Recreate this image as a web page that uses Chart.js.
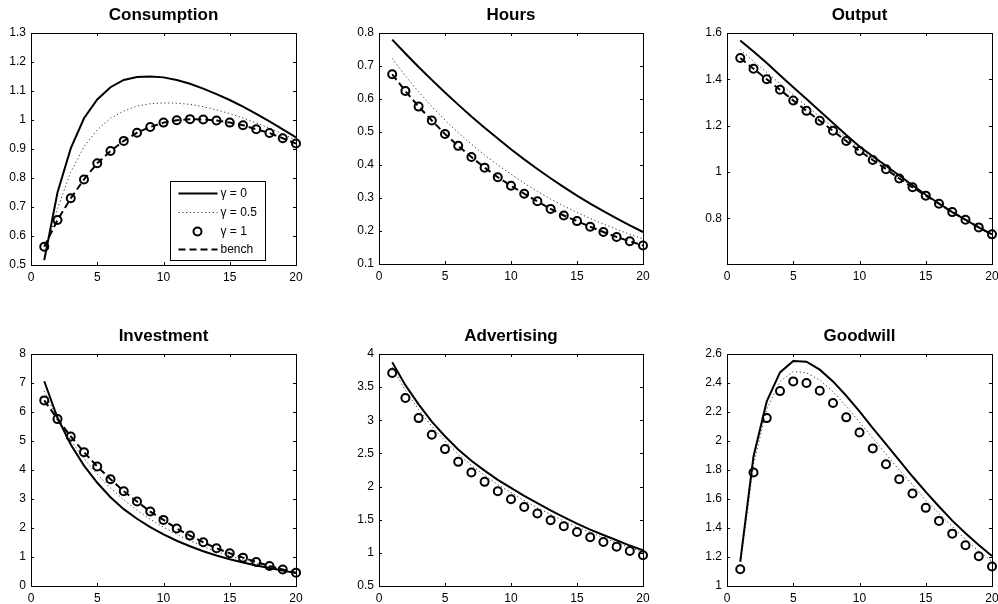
<!DOCTYPE html>
<html>
<head>
<meta charset="utf-8">
<script src="https://cdn.jsdelivr.net/npm/chart.js@4.4.1/dist/chart.umd.min.js"></script>
<style>
html, body { margin: 0; padding: 0; background: #fff; }
body { position: relative; width: 998px; height: 604px; overflow: hidden; }
canvas { position: absolute; }
</style>
</head>
<body>
<script>
// horizon (periods) and x ticks
const periods = [1, 2, 3, 4, 5, 6, 7, 8, 9, 10, 11, 12, 13, 14, 15, 16, 17, 18, 19, 20];
const xTicks = [0, 5, 10, 15, 20];

// Consumption
const consumptionG0 = [0.517, 0.75, 0.902, 1.006, 1.071, 1.113, 1.138, 1.148, 1.150, 1.147, 1.138, 1.125, 1.108, 1.089, 1.069, 1.046, 1.021, 0.995, 0.968, 0.940];
const consumptionG05 = [0.53, 0.695, 0.82, 0.908, 0.966, 1.006, 1.031, 1.048, 1.056, 1.059, 1.058, 1.054, 1.046, 1.035, 1.022, 1.007, 0.990, 0.972, 0.952, 0.930];
const consumptionG1 = [0.563, 0.655, 0.730, 0.795, 0.851, 0.893, 0.928, 0.956, 0.976, 0.991, 0.999, 1.003, 1.002, 0.998, 0.991, 0.982, 0.968, 0.955, 0.937, 0.919];
const consumptionBench = [0.563, 0.655, 0.730, 0.795, 0.851, 0.893, 0.928, 0.956, 0.976, 0.991, 0.999, 1.003, 1.002, 0.998, 0.991, 0.982, 0.968, 0.955, 0.937, 0.919];
const consumptionTicks = [0.5, 0.6, 0.7, 0.8, 0.9, 1, 1.1, 1.2, 1.3];

// Hours
const hoursG0 = [0.780, 0.738, 0.697, 0.658, 0.620, 0.583, 0.547, 0.513, 0.480, 0.448, 0.417, 0.388, 0.360, 0.333, 0.307, 0.283, 0.260, 0.238, 0.217, 0.197];
const hoursG05 = [0.723, 0.670, 0.622, 0.577, 0.536, 0.498, 0.463, 0.430, 0.400, 0.372, 0.345, 0.320, 0.297, 0.276, 0.256, 0.238, 0.221, 0.205, 0.190, 0.176];
const hoursG1 = [0.675, 0.624, 0.577, 0.535, 0.494, 0.458, 0.424, 0.392, 0.363, 0.337, 0.313, 0.290, 0.267, 0.247, 0.230, 0.213, 0.197, 0.182, 0.169, 0.156];
const hoursBench = [0.675, 0.624, 0.577, 0.535, 0.494, 0.458, 0.424, 0.392, 0.363, 0.337, 0.313, 0.290, 0.267, 0.247, 0.230, 0.213, 0.197, 0.182, 0.169, 0.156];
const hoursTicks = [0.1, 0.2, 0.3, 0.4, 0.5, 0.6, 0.7, 0.8];

// Output
const outputG0 = [1.568, 1.520, 1.470, 1.418, 1.366, 1.315, 1.263, 1.212, 1.160, 1.110, 1.068, 1.027, 0.985, 0.943, 0.902, 0.864, 0.827, 0.794, 0.761, 0.731];
const outputG05 = [1.528, 1.478, 1.430, 1.381, 1.333, 1.285, 1.239, 1.193, 1.147, 1.102, 1.060, 1.018, 0.976, 0.937, 0.900, 0.864, 0.828, 0.794, 0.761, 0.731];
const outputG1 = [1.492, 1.446, 1.400, 1.355, 1.309, 1.264, 1.221, 1.178, 1.134, 1.091, 1.052, 1.012, 0.972, 0.934, 0.898, 0.863, 0.827, 0.794, 0.761, 0.731];
const outputBench = [1.492, 1.446, 1.400, 1.355, 1.309, 1.264, 1.221, 1.178, 1.134, 1.091, 1.052, 1.012, 0.972, 0.934, 0.898, 0.863, 0.827, 0.794, 0.761, 0.731];
const outputTicks = [0.8, 1, 1.2, 1.4, 1.6];

// Investment
const investmentG0 = [7.06, 5.80, 4.88, 4.15, 3.56, 3.06, 2.65, 2.32, 2.03, 1.78, 1.56, 1.37, 1.20, 1.05, 0.92, 0.81, 0.71, 0.62, 0.53, 0.45];
const investmentG05 = [6.72, 5.78, 5.02, 4.39, 3.85, 3.38, 2.97, 2.61, 2.30, 2.03, 1.78, 1.56, 1.36, 1.19, 1.04, 0.90, 0.78, 0.66, 0.56, 0.46];
const investmentG1 = [6.40, 5.755, 5.157, 4.616, 4.121, 3.683, 3.269, 2.912, 2.567, 2.279, 1.980, 1.738, 1.508, 1.301, 1.128, 0.978, 0.830, 0.690, 0.570, 0.460];
const investmentBench = [6.40, 5.755, 5.157, 4.616, 4.121, 3.683, 3.269, 2.912, 2.567, 2.279, 1.980, 1.738, 1.508, 1.301, 1.128, 0.978, 0.830, 0.690, 0.570, 0.460];
const investmentTicks = [0, 1, 2, 3, 4, 5, 6, 7, 8];

// Advertising (no benchmark)
const advertisingG0 = [3.874, 3.53, 3.24, 2.98, 2.76, 2.56, 2.39, 2.24, 2.10, 1.98, 1.86, 1.75, 1.64, 1.54, 1.44, 1.35, 1.27, 1.19, 1.11, 1.04];
const advertisingG05 = [3.80, 3.45, 3.16, 2.91, 2.69, 2.49, 2.32, 2.17, 2.03, 1.91, 1.79, 1.68, 1.58, 1.48, 1.39, 1.31, 1.23, 1.15, 1.08, 1.01];
const advertisingG1 = [3.713, 3.335, 3.033, 2.781, 2.565, 2.373, 2.212, 2.071, 1.930, 1.809, 1.693, 1.593, 1.492, 1.401, 1.316, 1.235, 1.165, 1.094, 1.029, 0.963];
const advertisingTicks = [0.5, 1, 1.5, 2, 2.5, 3, 3.5, 4];

// Goodwill (no benchmark)
const goodwillG0 = [1.168, 1.893, 2.273, 2.473, 2.552, 2.547, 2.492, 2.411, 2.312, 2.204, 2.089, 1.978, 1.866, 1.755, 1.649, 1.548, 1.451, 1.364, 1.283, 1.207];
const goodwillG05 = [1.14, 1.84, 2.22, 2.41, 2.48, 2.47, 2.42, 2.34, 2.24, 2.13, 2.02, 1.91, 1.80, 1.70, 1.59, 1.50, 1.41, 1.32, 1.24, 1.17];
const goodwillG1 = [1.115, 1.783, 2.158, 2.344, 2.411, 2.400, 2.347, 2.262, 2.163, 2.059, 1.949, 1.840, 1.737, 1.638, 1.539, 1.449, 1.361, 1.281, 1.205, 1.134];
const goodwillTicks = [1, 1.2, 1.4, 1.6, 1.8, 2, 2.2, 2.4, 2.6];

const legendLabels = ['γ = 0', 'γ = 0.5', 'γ = 1', 'bench'];

// panel layout: axes box [left, top, right, bottom] in page px
const panels = [
  { title: 'Consumption', box: [31, 33, 296, 265], yMin: 0.5, yMax: 1.3, yTicks: consumptionTicks,
    g0: consumptionG0, g05: consumptionG05, g1: consumptionG1, bench: consumptionBench, legend: true },
  { title: 'Hours', box: [379, 33, 643, 264], yMin: 0.1, yMax: 0.8, yTicks: hoursTicks,
    g0: hoursG0, g05: hoursG05, g1: hoursG1, bench: hoursBench },
  { title: 'Output', box: [727, 33, 992, 264], yMin: 0.603, yMax: 1.6, yTicks: outputTicks,
    g0: outputG0, g05: outputG05, g1: outputG1, bench: outputBench },
  { title: 'Investment', box: [31, 354, 296, 586], yMin: 0, yMax: 8, yTicks: investmentTicks,
    g0: investmentG0, g05: investmentG05, g1: investmentG1, bench: investmentBench },
  { title: 'Advertising', box: [379, 354, 643, 586], yMin: 0.5, yMax: 4, yTicks: advertisingTicks,
    g0: advertisingG0, g05: advertisingG05, g1: advertisingG1 },
  { title: 'Goodwill', box: [727, 354, 992, 586], yMin: 1, yMax: 2.6, yTicks: goodwillTicks,
    g0: goodwillG0, g05: goodwillG05, g1: goodwillG1 }
];

Chart.defaults.font.family = '"Liberation Sans", Arial, Helvetica, sans-serif';
Chart.defaults.color = '#000';

// MATLAB-like box with inward ticks on all four sides
const boxTicks = {
  id: 'boxTicks',
  afterDatasetsDraw(chart) {
    const { ctx, chartArea: a, scales } = chart;
    const len = 3;
    ctx.save();
    ctx.strokeStyle = '#000';
    ctx.lineWidth = 1;
    ctx.beginPath();
    scales.x.ticks.forEach(t => {
      const px = Math.round(scales.x.getPixelForValue(t.value)) + 0.5;
      ctx.moveTo(px, a.bottom); ctx.lineTo(px, a.bottom - len);
      ctx.moveTo(px, a.top); ctx.lineTo(px, a.top + len);
    });
    scales.y.ticks.forEach(t => {
      const py = Math.round(scales.y.getPixelForValue(t.value)) + 0.5;
      ctx.moveTo(a.left, py); ctx.lineTo(a.left + len, py);
      ctx.moveTo(a.right, py); ctx.lineTo(a.right - len, py);
    });
    ctx.stroke();
    ctx.strokeRect(Math.round(a.left) + 0.5, Math.round(a.top) + 0.5,
      Math.round(a.right - a.left), Math.round(a.bottom - a.top));
    ctx.restore();
  }
};

// legend box in the lower right corner of the axes
const boxLegend = {
  id: 'boxLegend',
  afterDraw(chart, args, opts) {
    if (!opts.show) return;
    const { ctx, chartArea: a } = chart;
    const w = 95, h = 79;
    const x0 = Math.round(a.right - 31 - w) + 0.5, y0 = Math.round(a.bottom - 5 - h) + 0.5;
    ctx.save();
    ctx.fillStyle = '#fff';
    ctx.fillRect(x0, y0, w, h);
    ctx.strokeStyle = '#000';
    ctx.lineWidth = 1;
    ctx.strokeRect(x0, y0, w, h);
    const rows = [12, 31, 50, 68];
    ctx.font = '12px "Liberation Sans", Arial, sans-serif';
    ctx.textBaseline = 'middle';
    ctx.textAlign = 'left';
    legendLabels.forEach((lab, i) => {
      const ds = chart.data.datasets.find(d => d.label === lab);
      const y = y0 + rows[i];
      ctx.strokeStyle = ds.borderColor || '#000';
      ctx.lineWidth = ds.borderWidth || 2;
      if (ds.showLine === false) {
        ctx.lineWidth = ds.pointBorderWidth;
        ctx.beginPath();
        ctx.arc(x0 + 27, y, ds.pointRadius, 0, Math.PI * 2);
        ctx.stroke();
      } else {
        ctx.setLineDash(ds.borderDash || []);
        ctx.beginPath();
        ctx.moveTo(x0 + 8, y); ctx.lineTo(x0 + 47, y);
        ctx.stroke();
        ctx.setLineDash([]);
      }
      ctx.fillStyle = '#000';
      ctx.fillText(lab, x0 + 50, y);
    });
    ctx.restore();
  }
};

function pts(vals) {
  return periods.map((p, i) => ({ x: p, y: vals[i] }));
}

function makePanel(p) {
  const [L, T, R, B] = p.box;
  const yW = 40, xH = 24, top = 33, right = 12;
  const w = yW + (R - L) + right, h = top + (B - T) + xH;
  const cv = document.createElement('canvas');
  cv.width = w; cv.height = h;
  cv.style.left = (L - yW) + 'px';
  cv.style.top = (T - top) + 'px';
  cv.style.width = w + 'px';
  cv.style.height = h + 'px';
  document.body.appendChild(cv);

  const datasets = [
    { label: 'γ = 0', data: pts(p.g0), borderColor: '#000', borderWidth: 2, pointRadius: 0, fill: false },
    { label: 'γ = 0.5', data: pts(p.g05), borderColor: '#333', borderWidth: 1, borderDash: [1.2, 2.6], pointRadius: 0, fill: false }
  ];
  if (p.bench) {
    datasets.push({ label: 'bench', data: pts(p.bench), borderColor: '#000', borderWidth: 2, borderDash: [7, 4], pointRadius: 0, fill: false });
  }
  datasets.push({ label: 'γ = 1', data: pts(p.g1), showLine: false, pointRadius: 4, pointBorderWidth: 2,
    pointBorderColor: '#000', pointBackgroundColor: 'rgba(0,0,0,0)', borderColor: '#000', clip: false });

  new Chart(cv.getContext('2d'), {
    type: 'line',
    data: { datasets },
    options: {
      responsive: false,
      animation: false,
      events: [],
      layout: { padding: { left: 0, top: 0, bottom: 0, right: right } },
      plugins: {
        legend: { display: false },
        tooltip: { enabled: false },
        title: { display: true, text: p.title, fullSize: false, color: '#000',
          font: { size: 17, weight: 'bold' }, padding: { top: 5.4, bottom: 7.2 } },
        boxLegend: { show: !!p.legend }
      },
      scales: {
        x: {
          type: 'linear', min: 0, max: 20,
          grid: { display: false, drawTicks: false }, border: { display: false },
          afterBuildTicks: s => { s.ticks = xTicks.map(v => ({ value: v })); },
          afterFit: s => { s.height = xH; s.paddingLeft = 0; s.paddingRight = 0; },
          ticks: { color: '#000', font: { size: 12 }, padding: 5, maxRotation: 0, autoSkip: false }
        },
        y: {
          type: 'linear', min: p.yMin, max: p.yMax,
          grid: { display: false, drawTicks: false }, border: { display: false },
          afterBuildTicks: s => { s.ticks = p.yTicks.map(v => ({ value: v })); },
          afterFit: s => { s.width = yW; s.paddingTop = 0; s.paddingBottom = 0; },
          ticks: { color: '#000', font: { size: 12 }, padding: 5, autoSkip: false, callback: v => String(v) }
        }
      }
    },
    plugins: [boxTicks, boxLegend]
  });
}

panels.forEach(makePanel);
</script>
</body>
</html>
